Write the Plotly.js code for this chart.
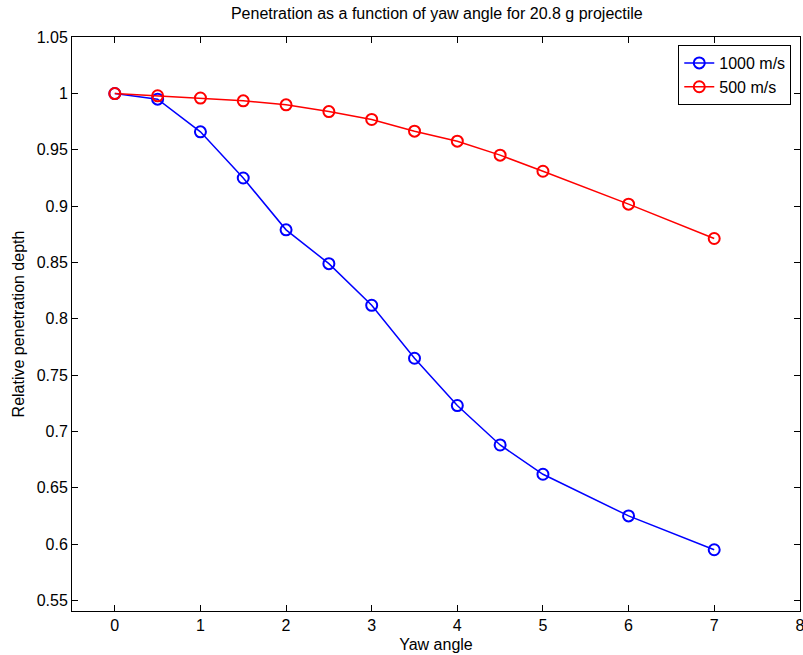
<!DOCTYPE html>
<html>
<head>
<meta charset="utf-8">
<script src="https://cdn.plot.ly/plotly-3.0.1.min.js"></script>
<style>html,body{margin:0;padding:0;background:#fff;}#chart{width:803px;height:655px;}</style>
</head>
<body>
<div id="chart"></div>
<script>
const yawAngle = [0, 0.5, 1, 1.5, 2, 2.5, 3, 3.5, 4, 4.5, 5, 6, 7];
const depth1000 = [1.0, 0.995, 0.966, 0.925, 0.879, 0.849, 0.812, 0.765, 0.723, 0.688, 0.662, 0.625, 0.595];
const depth500 = [1.0, 0.998, 0.996, 0.9935, 0.990, 0.984, 0.977, 0.9666, 0.9577, 0.9453, 0.931, 0.9018, 0.8713];
const seriesNames = ["1000 m/s", "500 m/s"];
const xTicks = [0, 1, 2, 3, 4, 5, 6, 7, 8];
const yTicks = [0.55, 0.6, 0.65, 0.7, 0.75, 0.8, 0.85, 0.9, 0.95, 1, 1.05];
const yTickText = ["0.55", "0.6", "0.65", "0.7", "0.75", "0.8", "0.85", "0.9", "0.95", "1", "1.05"];

const font = "Liberation Sans, Arial, Helvetica, sans-serif";
const fs = 16;
const traces = [
  {x: yawAngle, y: depth1000, name: seriesNames[0], mode: "lines+markers", type: "scatter",
   line: {color: "#0000ff", width: 1.5},
   marker: {symbol: "circle-open", size: 11, color: "#0000ff", line: {width: 2, color: "#0000ff"}}},
  {x: yawAngle, y: depth500, name: seriesNames[1], mode: "lines+markers", type: "scatter",
   line: {color: "#ff0000", width: 1.5},
   marker: {symbol: "circle-open", size: 11, color: "#ff0000", line: {width: 2, color: "#ff0000"}}}
];
const axisCommon = {showline: true, linecolor: "#000", linewidth: 1, mirror: "ticks", ticks: "inside",
  ticklen: 6, tickcolor: "#000", showgrid: false, zeroline: false, ticklabeloverflow: "allow",
  tickfont: {family: font, size: fs, color: "#000"}};
const layout = {
  width: 803, height: 655,
  margin: {l: 72, r: 3, t: 37, b: 44},
  paper_bgcolor: "#fff", plot_bgcolor: "#fff",
  font: {family: font, color: "#000"},
  title: {text: "Penetration as a function of yaw angle for 20.8 g projectile",
    font: {family: font, size: fs, color: "#000"}, x: 0.544, xanchor: "center", y: 0.98, yanchor: "middle"},
  xaxis: Object.assign({}, axisCommon, {range: [-0.5, 8.002], tickvals: xTicks,
    title: {text: "Yaw angle", font: {family: font, size: fs, color: "#000"}, standoff: 5}}),
  yaxis: Object.assign({}, axisCommon, {range: [0.5406, 1.0502], tickvals: yTicks, ticktext: yTickText,
    title: {text: "Relative penetration depth", font: {family: font, size: fs, color: "#000"}, standoff: 8}}),
  showlegend: true,
  legend: {x: 0.988, xanchor: "right", y: 0.986, yanchor: "top", bordercolor: "#000", borderwidth: 1,
    bgcolor: "#fff", font: {family: font, size: fs, color: "#000"}, tracegroupgap: 0, itemwidth: 30}
};
Plotly.newPlot("chart", traces, layout, {displayModeBar: false, staticPlot: true});
</script>
</body>
</html>
